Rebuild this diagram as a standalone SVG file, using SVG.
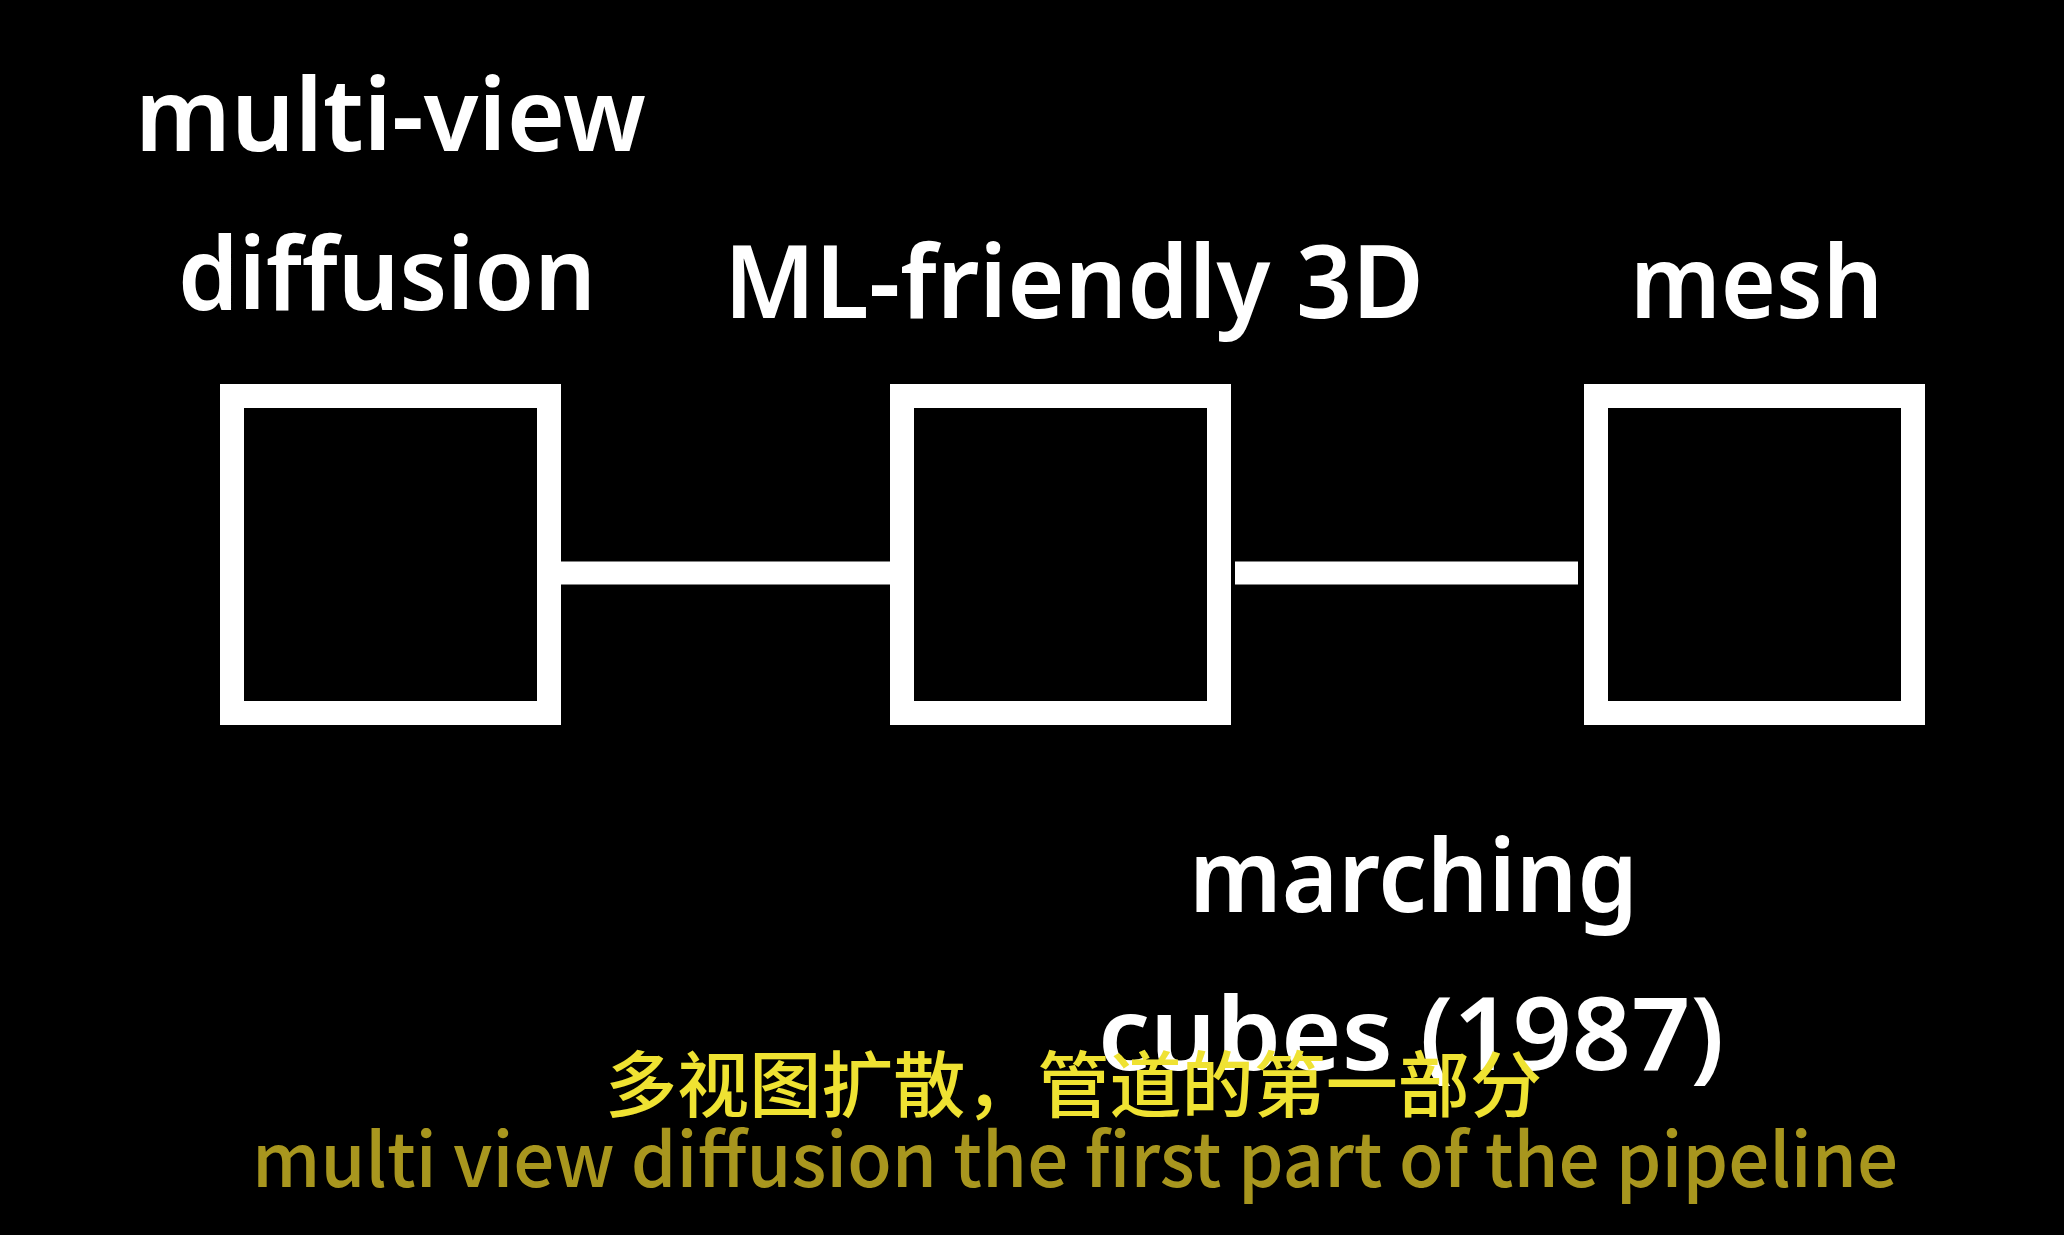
<svg xmlns="http://www.w3.org/2000/svg" width="2064" height="1235" viewBox="0 0 2064 1235">
<style>
.box{fill:none;stroke:#ffffff;stroke-width:24}
.conn{stroke:#ffffff;stroke-width:23;fill:none}
.lbl{font-family:"Noto Sans","Open Sans","Liberation Sans",sans-serif;font-weight:600;font-size:101px;fill:#ffffff}
.zh{font-family:"Noto Sans CJK SC","Noto Sans",sans-serif;font-weight:500;font-size:72px;fill:#efe232}
.en{font-family:"Noto Sans CJK SC","Noto Sans",sans-serif;font-weight:500;font-size:74px;fill:#a8961e}
</style>
<rect width="2064" height="1235" fill="#000000"/>
<g id="connectors">
<line class="conn" x1="561" y1="573" x2="890" y2="573"/>
<line class="conn" x1="1235" y1="573" x2="1578" y2="573"/>
</g>
<g id="node-multiview">
<rect class="box" x="232" y="396" width="317" height="317"/>
<text class="lbl" x="135" y="151" textLength="511" lengthAdjust="spacingAndGlyphs">multi-view</text>
<text class="lbl" x="178" y="310" textLength="418" lengthAdjust="spacingAndGlyphs">diffusion</text>
</g>
<g id="node-ml3d">
<rect class="box" x="902" y="396" width="317" height="317"/>
<text class="lbl" x="724" y="318" textLength="700" lengthAdjust="spacingAndGlyphs">ML-friendly 3D</text>
</g>
<g id="node-mesh">
<rect class="box" x="1596" y="396" width="317" height="317"/>
<text class="lbl" x="1630" y="318" textLength="253" lengthAdjust="spacingAndGlyphs">mesh</text>
</g>
<g id="label-marching">
<text class="lbl" x="1189" y="912" textLength="449" lengthAdjust="spacingAndGlyphs">marching</text>
<text class="lbl" x="1098" y="1070" textLength="626" lengthAdjust="spacingAndGlyphs">cubes (1987)</text>
</g>
<g id="subtitles">
<text class="zh" x="605" y="1111" textLength="937" lengthAdjust="spacingAndGlyphs">多视图扩散，管道的第一部分</text>
<text class="en" x="252" y="1187" textLength="1646" lengthAdjust="spacingAndGlyphs">multi view diffusion the first part of the pipeline</text>
</g>
</svg>
